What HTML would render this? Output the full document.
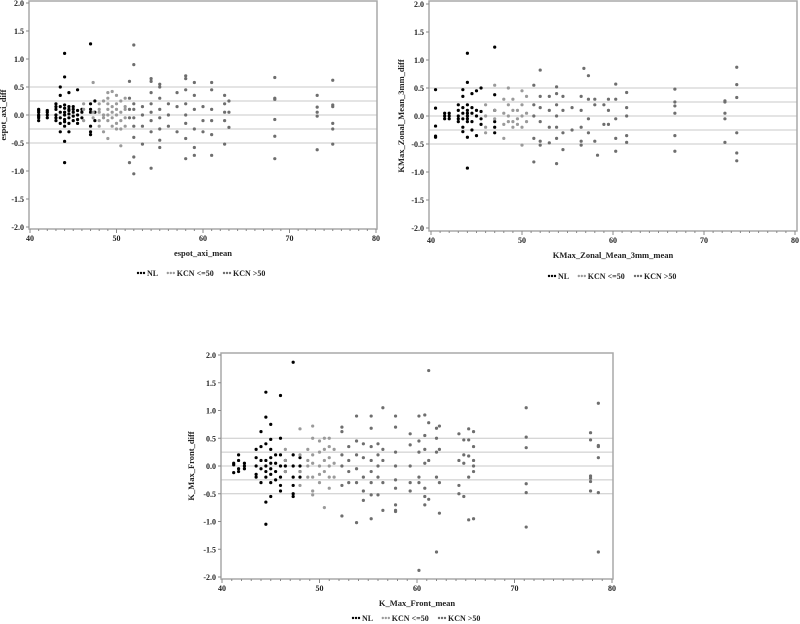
<!DOCTYPE html>
<html><head><meta charset="utf-8"><style>
html,body{margin:0;padding:0;background:#fff;width:800px;height:624px;overflow:hidden}
svg{display:block;font-family:"Liberation Serif",serif;font-weight:bold}
</style></head><body>
<svg id="s" width="800" height="624"></svg>
<script>
// ---- data: cluster x-means and the y-differences within each cluster ----
const c1NLx=[41,42,43,43.5,44,44.5,45,45.5,46,47,47.5];
const c1NLy=[[0.1,0.05,0,-0.05,-0.1,0.08,-0.02],[0.05,0,-0.05,0.08],[0.2,0.1,0,-0.1,0.15,-0.05],[0.5,0.35,0.15,0.05,-0.05,-0.15,-0.3],[1.1,0.68,0.12,0.05,0,-0.08,-0.2,-0.47,-0.85,0.18,-0.12],[0.4,0.15,0.08,0.02,-0.05,-0.15,-0.3,0.1],[0.15,0.05,-0.02,-0.1,0.1],[0.45,0.08,0,-0.08,-0.15],[0.1,0.05,-0.05],[1.27,0.2,0.05,-0.2,-0.3,-0.35,0.1],[0.25,-0.1,0.05]];
const c1LOx=[46.2,47.3,48,48.5,49,49.5,50,50.5,51];
const c1LOy=[[0.1,-0.1,0.2],[0.58,0.05,-0.05],[0.2,0.05,-0.1,-0.2,0.1],[0.25,0,-0.05,-0.3],[0.4,0.2,0.1,-0.1,-0.42,0.3,0],[0.42,0.15,-0.05,-0.2,0.05],[0.35,0.1,0,-0.15,-0.25,0.2],[0.25,0.05,-0.1,-0.25,-0.55],[0.3,0.1,-0.05,-0.2,0.15]];
const c1HIx=[51.5,52,53,54,55,56,57,58,59,60,61,62.5,63,68.3,73.2,75];
const c1HIy=[[0.6,0.3,0.1,-0.05,-0.85],[1.25,0.9,0.2,0.1,-0.05,-0.2,-0.4,-0.75,-1.05],[0.15,0,-0.2,-0.52],[0.65,0.6,0.4,0.2,0.05,-0.1,-0.3,-0.95],[0.55,0.5,0.3,0.1,-0.05,-0.25,-0.45,-0.58],[0.2,0,-0.2],[0.4,0.15,-0.3],[0.7,0.65,0.45,0.2,0,-0.15,-0.42,-0.78],[0.58,0.35,0.1,-0.25,-0.58,-0.72],[0.15,-0.1,-0.3],[0.58,0.45,0.1,-0.1,-0.35,-0.72],[0.35,0.2,0.05,-0.1,-0.52],[0.25,0.05,-0.22],[0.67,0.3,0.28,-0.08,-0.38,-0.78],[0.35,0.14,0.05,-0.02,-0.62],[0.62,0.18,0.15,-0.15,-0.25,-0.52]];

const c2NLx=[40.5,41.5,42,43,43.5,44,44.5,45,45.5,47];
const c2NLy=[[0.47,0.14,-0.18,-0.36,-0.38],[0.05,0,-0.05],[0.05,-0.05,0],[0.2,0.1,0,-0.05,-0.1],[0.47,0.35,0.15,0.05,-0.05,-0.2,-0.28],[1.12,0.6,0.2,0.1,0,-0.1,-0.38,-0.93,0.05,-0.05],[0.4,0.15,0.05,-0.1,-0.25],[0.45,0.1,0,-0.35],[0.5,0.08,-0.05,-0.15],[1.23,0.38,0.1,-0.1,-0.2,-0.3]];
const c2LOx=[46,47,48,48.5,49,49.5,50,50.5];
const c2LOy=[[0.2,0,-0.2,-0.3],[0.55,0.1,-0.05],[0.3,0.05,-0.15,-0.4],[0.5,0.2,0,-0.1],[0.3,0.1,-0.1,-0.2],[0.1,-0.05,-0.15],[0.45,0.2,0,-0.52,-0.2],[0.35,0.05,-0.1]];
const c2HIx=[51.3,52,53,53.8,54.5,55.5,56.5,56.8,57.3,58,58.3,59,59.5,60.3,61.5,66.8,72.3,73.6];
const c2HIy=[[0.55,0.2,0,-0.4,-0.82],[0.82,0.35,0.15,-0.1,-0.45,-0.52],[0.35,0.1,-0.2,-0.48],[0.52,0.4,0.2,0,-0.2,-0.4,-0.85],[0.35,0.1,-0.3,-0.6],[0.15,-0.25],[0.35,0.1,-0.2,-0.45,-0.52],[0.85],[0.72,0.3,-0.05,-0.3],[0.3,0.2,-0.45],[-0.7],[0.2,-0.15],[0.3,0.1,-0.15],[0.57,0.3,-0.05,-0.4,-0.63],[0.42,0.15,0,-0.35,-0.47],[0.48,0.25,0.18,0.05,-0.35,-0.63],[0.27,0.25,0.05,-0.05,-0.47],[0.87,0.56,0.33,-0.3,-0.66,-0.8]];

const c3NLx=[41.2,41.7,42.3,43.5,44,44.5,45,45.5,46,46.5,47.3,48];
const c3NLy=[[0.05,0.02,-0.12],[0.2,0.1,-0.05,-0.1],[0.05,0,-0.05],[0.3,0.15,0,-0.15,-0.2],[0.62,0.35,0.1,-0.05,-0.3],[1.33,0.88,0.4,0.1,0,-0.1,-0.2,-0.65,-1.05],[0.75,0.48,0.3,0.15,0.05,-0.05,-0.15,-0.3,-0.55],[0.2,0.05,-0.1,-0.25],[1.27,0.5,0.2,0,-0.2,-0.35,-0.45],[0.1,0,-0.1],[1.87,0.2,0,-0.2,-0.35,-0.5,-0.55],[0.15,0,-0.1,-0.2]];
const c3LOx=[46.5,48,48.8,49.3,50,50.5,51,51.5];
const c3LOy=[[0.3,0.1,-0.1],[0.67,0.2,-0.1,-0.35],[0.3,0.1,0,-0.2],[0.72,0.5,0.2,0.05,-0.2,-0.45,-0.52],[0.45,0.25,0,-0.15,-0.3],[0.5,0.3,0.1,-0.1,-0.75],[0.5,0.35,0.15,0,-0.2,-0.4],[0.3,0.05,-0.2]];
const c3HIx=[52.3,53,53.8,54.5,55.3,56,56.5,57.8,59.3,60.2,60.8,61.2,62,62.3,64.3,64.8,65.3,65.8,71.2,77.8,78.6];
const c3HIy=[[0.7,0.62,0.2,0,-0.35,-0.9],[0.35,0.1,-0.1,-0.3],[0.9,0.45,0.2,-0.05,-0.3,-1.02],[0.4,0.15,-0.2,-0.45,-0.62],[0.9,0.68,0.35,0.1,-0.1,-0.3,-0.52,-0.95],[0.4,0.2,0,-0.2,-0.52],[1.05,0.3,0.1,-0.3,-0.8],[0.9,0.7,0.25,0,-0.25,-0.4,-0.7,-0.8,-0.82],[0.58,0.38,0,-0.3,-0.45],[0.9,0.45,0.25,-0.2,-0.3,-1.88],[0.92,0.55,0.3,0.05,-0.4,-0.55,-0.7],[1.72,0.78,0.1,-0.6],[0.68,0.5,0.25,-0.2,-1.55],[0.72,0.3,-0.3,-0.85],[0.58,0.1,-0.35,-0.5],[0.47,0.2,0.05,-0.55],[0.67,0.47,0.18,-0.2,-0.97],[0.62,0.35,0.1,0,-0.1,-0.95],[1.05,0.52,0.33,-0.32,-0.48,-1.1],[0.6,0.47,-0.18,-0.22,-0.28,-0.45],[1.13,0.37,0.35,0.15,-0.48,-1.55]];

const xTicks=[40,50,60,70,80];
const yTicks=[2.0,1.5,1.0,0.5,0.0,-0.5,-1.0,-1.5,-2.0];
const refLines=[0.5,0.25,0,-0.25,-0.5];
const legendLabels=["NL","KCN <=50","KCN >50"];
const colors=["#000","#9a9a9a","#6e6e6e"];

const NS="http://www.w3.org/2000/svg";
const svg=document.getElementById('s');
function mk(tag,attrs,parent){const e=document.createElementNS(NS,tag);for(const k in attrs)e.setAttribute(k,attrs[k]);(parent||svg).appendChild(e);return e;}

function chart(cfg){
  const g=mk('g',{});
  
  
  const X=v=>cfg.x0+(v-40)/40*(cfg.x1-cfg.x0);
  const Y=v=>cfg.y0-v*cfg.ky;
  refLines.forEach(r=>{const l=mk('line',{x1:cfg.fl,x2:cfg.fr,y1:Y(r),y2:Y(r),stroke:'#c8c8c8','stroke-width':1},g);
    
    });
  const fr=mk('rect',{x:cfg.fl,y:cfg.ft,width:cfg.fr-cfg.fl,height:cfg.fb-cfg.ft,fill:'none',stroke:'#a8a8a8','stroke-width':1.5},g);
  
  
  yTicks.forEach(t=>{const tx=mk('text',{x:cfg.fl-5,y:Y(t)+3,'text-anchor':'end','font-size':8,fill:'#222'},g);tx.textContent=t.toFixed(1);
    
    
    mk('line',{x1:cfg.fl-3,x2:cfg.fl,y1:Y(t),y2:Y(t),stroke:'#888'},g);});
  for(let v=40;v<=80;v++){mk('line',{x1:X(v),x2:X(v),y1:cfg.fb,y2:cfg.fb+(v%10?2:4),stroke:'#888'},g);}
  xTicks.forEach(t=>{const tx=mk('text',{x:X(t),y:cfg.fb+12,'text-anchor':'middle','font-size':8,fill:'#222'},g);tx.textContent=t;
    
    });
  const xl=mk('text',{x:(cfg.fl+cfg.fr)/2,y:cfg.fb+27,'text-anchor':'middle','font-size':8.5,fill:'#222'},g);xl.textContent=cfg.xlab;
  
  
  const yc=(cfg.ft+cfg.fb)/2;
  const yl=mk('text',{x:cfg.ylx,y:yc,'text-anchor':'middle','font-size':8.5,fill:'#222',transform:`rotate(-90 ${cfg.ylx} ${yc})`},g);yl.textContent=cfg.ylab;
  
  
  const groups=[[cfg.nlx,cfg.nly],[cfg.lox,cfg.loy],[cfg.hix,cfg.hiy]];
  groups.forEach((gr,gi)=>{gr[0].forEach((xv,i)=>{gr[1][i].forEach(yv=>{
    const c=mk('circle',{cx:X(xv),cy:Y(yv),r:1.6,fill:colors[gi]},g);
    
    });});});
  // legend
  let lx=cfg.legx;
  legendLabels.forEach((lab,i)=>{
    for(let k=0;k<3;k++)mk('circle',{cx:lx+k*3,cy:cfg.legy-3,r:1.2,fill:colors[i]},g);
    const t=mk('text',{x:lx+9,y:cfg.legy,'font-size':8,fill:'#222'},g);t.textContent=lab;
    
    
    lx+=9+lab.length*4.4+12;
  });
}
chart({name:'chart-espot-axi',x0:30,x1:376,y0:115,ky:56,fl:29,fr:377,ft:1,fb:229,xlab:'espot_axi_mean',ylab:'espot_axi_diff',ylx:6,legx:138,legy:276,
  nlx:c1NLx,nly:c1NLy,lox:c1LOx,loy:c1LOy,hix:c1HIx,hiy:c1HIy});
chart({name:'chart-kmax-zonal',x0:431,x1:795,y0:116,ky:56,fl:429,fr:797,ft:1,fb:231,xlab:'KMax_Zonal_Mean_3mm_mean',ylab:'KMax_Zonal_Mean_3mm_diff',ylx:404,legx:549,legy:279,
  nlx:c2NLx,nly:c2NLy,lox:c2LOx,loy:c2LOy,hix:c2HIx,hiy:c2HIy});
chart({name:'chart-kmax-front',x0:222,x1:612,y0:466,ky:55.5,fl:221,fr:613,ft:353,fb:579,xlab:'K_Max_Front_mean',ylab:'K_Max_Front_diff',ylx:194,legx:353,legy:621,
  nlx:c3NLx,nly:c3NLy,lox:c3LOx,loy:c3LOy,hix:c3HIx,hiy:c3HIy});
</script>
</body></html>
